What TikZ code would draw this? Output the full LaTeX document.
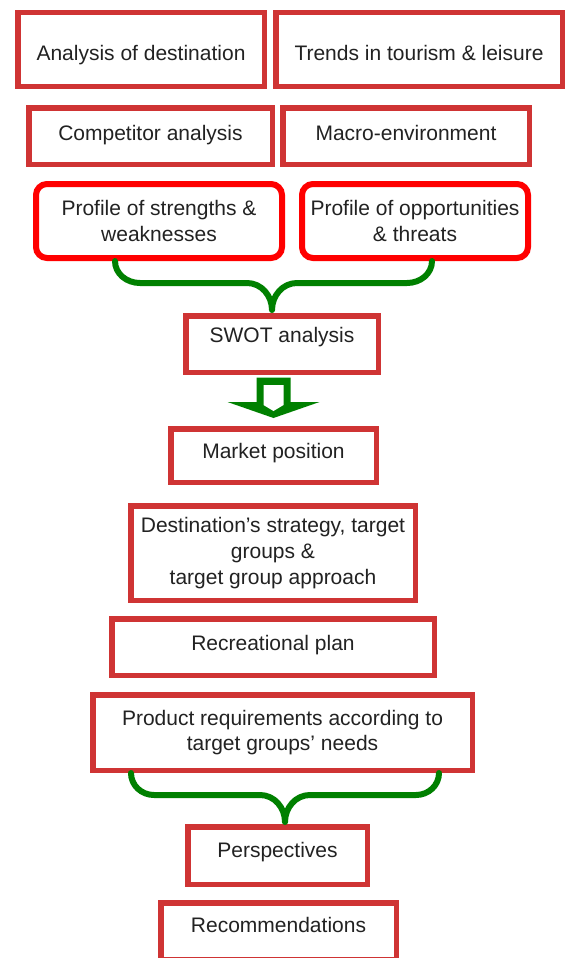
\documentclass[tikz,border=0pt]{standalone}
\usepackage{fontspec}
\setmainfont{Liberation Sans}
\usetikzlibrary{calc}
\definecolor{boxred}{RGB}{207,52,52}
\definecolor{pfred}{RGB}{255,0,0}
\definecolor{brgreen}{RGB}{0,128,0}
\definecolor{txgray}{RGB}{34,34,34}

\begin{document}
\begin{tikzpicture}[x=1pt,y=-1pt,
    bx/.style={draw=boxred,line width=5.5pt,fill=white,
               inner xsep=3pt,align=center,text=txgray,
               font=\fontsize{21}{25.7}\selectfont},
    rbx/.style={bx,draw=pfred,line width=6pt,rounded corners=11pt},
    lift/.style={text height=16pt,text depth=#1},
    brc/.style={draw=brgreen,line width=6pt,line cap=round,line join=round},
    blk/.style={fill=brgreen}
  ]
  \useasboundingbox (0,0) rectangle (565,958);

  % inputs
  \node[bx,lift=1.4pt,text height=23pt,minimum width=246.5pt,minimum height=73.5pt] (dest) at (141,49.5) {Analysis of destination};
  \node[bx,lift=1.4pt,text height=23pt,minimum width=286.5pt,minimum height=73.5pt] (trnd) at (419,49.5) {Trends in tourism \& leisure};
  \node[bx,lift=7.4pt,minimum width=243.5pt,minimum height=56.5pt] (comp) at (150.5,136) {Competitor analysis};
  \node[bx,lift=8pt,minimum width=246.5pt,minimum height=56.5pt] (macro) at (406,136) {Macro-environment};

  % profiles
  \node[rbx,minimum width=246pt,minimum height=74pt] (psw) at (159,221) {Profile of strengths \&\\weaknesses};
  \node[rbx,minimum width=226pt,minimum height=74pt] (pot) at (415,221) {Profile of opportunities\\\& threats};

  \node[bx,lift=19.4pt,minimum width=192.5pt,minimum height=56.5pt] (swot) at (282,344) {SWOT analysis};
  \node[bx,lift=11pt,minimum width=205.5pt,minimum height=53.5pt] (mkt) at (273.5,455.5) {Market position};
  \node[bx,minimum width=284.5pt,minimum height=94.5pt] (strat) at (273,553) {Destination’s strategy, target\\groups \&\\target group approach};
  \node[bx,lift=8.8pt,minimum width=322.5pt,minimum height=56.5pt] (rec) at (273,647) {Recreational plan};
  \node[bx,minimum width=379.5pt,minimum height=75.5pt] (prod) at (282.5,732.5) {Product requirements according to\\target groups’ needs};
  \node[bx,lift=12.4pt,minimum width=179.5pt,minimum height=57.5pt] (persp) at (277.5,855.5) {Perspectives};
  \node[bx,lift=13.4pt,minimum width=235.5pt,minimum height=56.5pt] (recom) at (278.5,931) {Recommendations};

  % braces
  \coordinate (b1l) at (psw.south -| 115,0);
  \coordinate (b1r) at (pot.south -| 432,0);
  \coordinate (t1) at (272,310);
  \draw[brc] (b1l) to[out=-90,in=180] (140,283) -- (247,283) to[out=0,in=90] (t1)
    to[out=90,in=180] (297,283) -- (407,283) to[out=0,in=-90] (b1r);

  \coordinate (b2l) at (prod.south -| 131,0);
  \coordinate (b2r) at (prod.south -| 439,0);
  \coordinate (t2) at (285,822);
  \draw[brc] (b2l) to[out=-90,in=180] (154,795) -- (260,795) to[out=0,in=90] (t2)
    to[out=90,in=180] (310,795) -- (416,795) to[out=0,in=-90] (b2r);

  % block arrow
  \coordinate (ar) at (swot.south -| mkt.north);
  \begin{scope}[shift={(ar)}]
    \fill[blk] (-17,2.5) -- (17,2.5) -- (17,27) -- (46,27) -- (0,43) -- (-46,27) -- (-17,27) -- cycle;
    \fill[white] (-10,10) -- (10,10) -- (10,30) -- (0,36) -- (-10,30) -- cycle;
  \end{scope}
\end{tikzpicture}
\end{document}
